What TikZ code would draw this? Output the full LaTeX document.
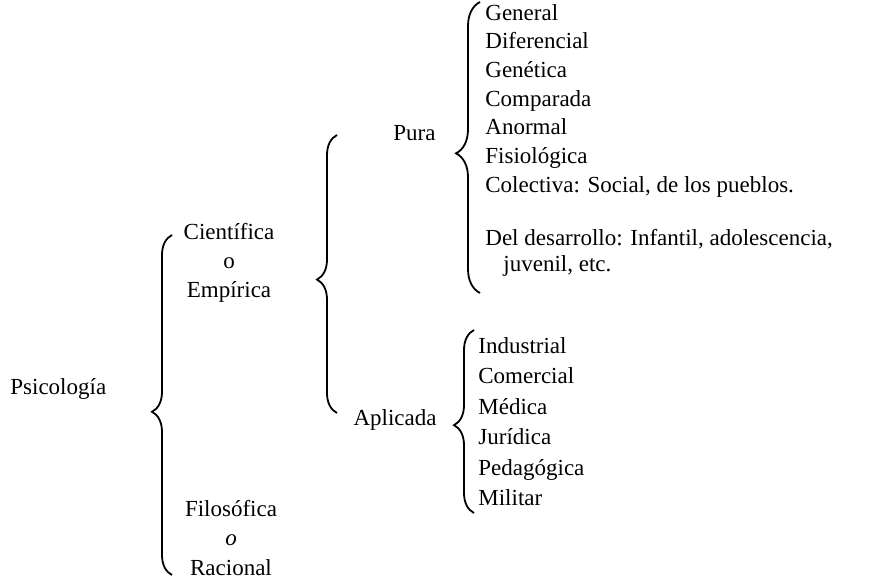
\documentclass[tikz,border=0pt]{standalone}
\usepackage{fontspec}
\setmainfont{Liberation Serif}
\usepackage{tikz}
\usetikzlibrary{positioning,decorations.pathreplacing}

\begin{document}
\begin{tikzpicture}[x=0.5pt,y=-0.5pt,font=\fontsize{11.5}{14.6}\selectfont,
  t/.style={inner sep=0pt,anchor=base west},
  grp/.style={inner sep=0pt,align=center},
  brc/.style={decorate,decoration={brace,amplitude=#1,aspect=0.48},line width=0.9pt},
  brc/.default=10pt]
\useasboundingbox (0,0) rectangle (872,578);
% left part
\node[t] (psi) at (10,394) {Psicología};
\node[grp] (cie) at (229,263) {Científica\\o\\Empírica};
\node[grp] (fil) at (231,538) {Filosófica\\\textit{o}\\Racional};
\node[inner sep=0pt,anchor=base east] (pura) at (436,140) {Pura};
\node[inner sep=0pt,anchor=base east] (apl) at (437,425) {Aplicada};
% pura
\node[t] (gen) at (485,20) {General};
\node[t,below=14.35pt of gen.base west,anchor=base west] (dif) {Diferencial};
\node[t,below=14.35pt of dif.base west,anchor=base west] (genet) {Genética};
\node[t,below=14.35pt of genet.base west,anchor=base west] (comp) {Comparada};
\node[t,below=14.35pt of comp.base west,anchor=base west] (anor) {Anormal};
\node[t,below=14.35pt of anor.base west,anchor=base west] (fisio) {Fisiológica};
\node[t,below=14.35pt of fisio.base west,anchor=base west] (colec) {Colectiva: Social, de los pueblos.};
\node[t,below=26.4pt of colec.base west,anchor=base west] (desa) {Del desarrollo: Infantil, adolescencia,};
\node[t,below=13pt of desa.base west,anchor=base west,xshift=9pt] (juv) {juvenil, etc.};
% aplicada
\node[t] (ind) at (478,353) {Industrial};
\node[t,below=15.25pt of ind.base west,anchor=base west] (com) {Comercial};
\node[t,below=15.25pt of com.base west,anchor=base west] (med) {Médica};
\node[t,below=15.25pt of med.base west,anchor=base west] (jur) {Jurídica};
\node[t,below=15.25pt of jur.base west,anchor=base west] (ped) {Pedagógica};
\node[t,below=15.25pt of ped.base west,anchor=base west] (mil) {Militar};
% braces
\coordinate (b1t) at (172,235); \coordinate (b1b) at (172,575);
\coordinate (b2t) at (337,135); \coordinate (b2b) at (337,413);
\coordinate (b3t) at (480,2);   \coordinate (b3b) at (480,293);
\coordinate (b4t) at (474,330); \coordinate (b4b) at (474,513);
\draw[brc] (b1b) -- (b1t);
\draw[brc] (b2b) -- (b2t);
\draw[brc=12pt] (b3b) -- (b3t);
\draw[brc] (b4b) -- (b4t);
\end{tikzpicture}
\end{document}
